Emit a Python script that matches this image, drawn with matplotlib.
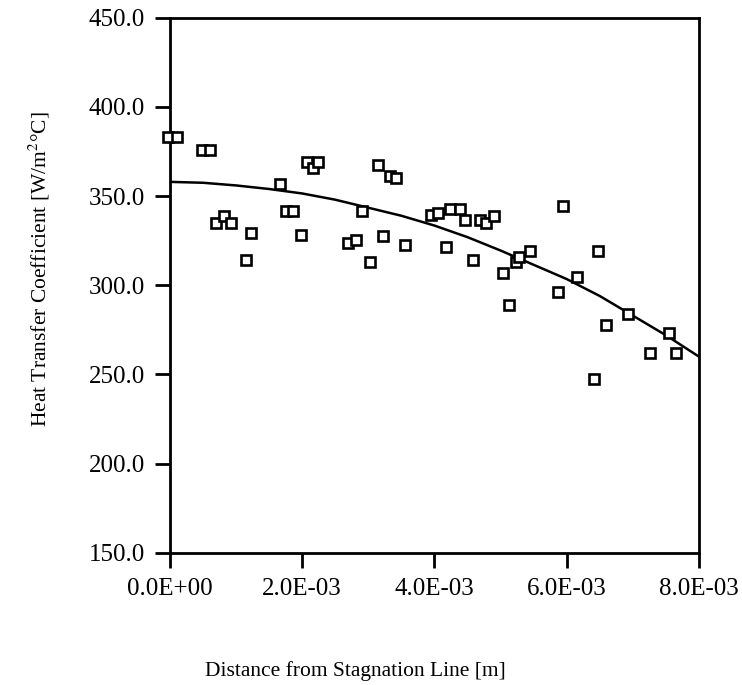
"""Heat transfer coefficient vs distance from stagnation line."""
import matplotlib

matplotlib.use("Agg")
import matplotlib.pyplot as plt
from matplotlib.ticker import FixedLocator, FixedFormatter

plt.rcParams["font.family"] = ["Liberation Serif", "DejaVu Serif"]
plt.rcParams["mathtext.fontset"] = "stix"

# measured points (distance [m], h [W/m2C])
dist = [
    -0.03e-3, 0.10e-3, 0.48e-3, 0.60e-3, 0.70e-3, 0.82e-3, 0.93e-3, 1.145e-3,
    1.22e-3, 1.66e-3, 1.76e-3, 1.86e-3, 1.98e-3, 2.07e-3, 2.17e-3, 2.24e-3,
    2.70e-3, 2.82e-3, 2.90e-3, 3.02e-3, 3.14e-3, 3.22e-3, 3.33e-3, 3.42e-3,
    3.55e-3, 3.95e-3, 4.06e-3, 4.18e-3, 4.24e-3, 4.38e-3, 4.46e-3, 4.58e-3,
    4.69e-3, 4.78e-3, 4.90e-3, 5.03e-3, 5.12e-3, 5.23e-3, 5.28e-3, 5.44e-3,
    5.87e-3, 5.95e-3, 6.15e-3, 6.41e-3, 6.48e-3, 6.60e-3, 6.93e-3, 7.26e-3,
    7.54e-3, 7.66e-3,
]
htc = [
    383.4, 383.4, 376.0, 376.0, 335.2, 338.6, 335.2, 314.3,
    329.6, 356.9, 341.8, 341.8, 328.3, 368.9, 365.7, 368.9,
    324.0, 325.5, 341.8, 313.3, 367.6, 327.4, 361.4, 360.1,
    322.7, 339.5, 340.8, 321.6, 342.7, 342.7, 336.7, 314.3,
    336.7, 334.9, 338.6, 306.8, 289.1, 313.3, 315.8, 319.0,
    296.5, 344.6, 304.4, 247.4, 319.3, 277.5, 283.8, 262.3,
    273.2, 262.3,
]

# fitted curve
fit_x = [0.0, 0.5e-3, 1.0e-3, 1.5e-3, 2.0e-3, 2.5e-3, 3.0e-3, 3.5e-3, 4.0e-3,
         4.5e-3, 5.0e-3, 5.5e-3, 6.0e-3, 6.5e-3, 7.0e-3, 7.5e-3, 8.0e-3]
fit_y = [358.0, 357.5, 356.0, 354.0, 351.5, 348.0, 343.5, 339.0, 333.5,
         327.0, 319.5, 311.5, 303.5, 294.0, 283.0, 272.0, 260.0]

x_ticks = [0.0, 2.0e-3, 4.0e-3, 6.0e-3, 8.0e-3]
x_tick_labels = ["0.0E+00", "2.0E-03", "4.0E-03", "6.0E-03", "8.0E-03"]
y_ticks = [150, 200, 250, 300, 350, 400, 450]
y_tick_labels = ["150.0", "200.0", "250.0", "300.0", "350.0", "400.0", "450.0"]

fig = plt.figure(figsize=(7.42, 6.85), dpi=100)
ax = fig.add_axes([0.229, 0.193, 0.713, 0.781])

ax.plot(fit_x, fit_y, color="black", linewidth=1.8)
ax.plot(dist, htc, linestyle="none", marker="s", markersize=7.5,
        markerfacecolor="white", markeredgecolor="black",
        markeredgewidth=1.9, clip_on=False, zorder=3)

ax.set_xlim(0, 8.0e-3)
ax.set_ylim(150, 450)
ax.xaxis.set_major_locator(FixedLocator(x_ticks))
ax.xaxis.set_major_formatter(FixedFormatter(x_tick_labels))
ax.yaxis.set_major_locator(FixedLocator(y_ticks))
ax.yaxis.set_major_formatter(FixedFormatter(y_tick_labels))

for side in ax.spines.values():
    side.set_linewidth(2.0)
ax.tick_params(direction="out", length=11, width=2.0, pad=7, labelsize=18)

# labels sit off-centre in the original, so place them by hand
ax.set_xlabel("Distance from Stagnation Line [m]", fontsize=15.5)
ax.xaxis.set_label_coords(0.35, -0.203)
ax.set_ylabel(r"Heat Transfer Coefficient [W/m$^2$°C]", fontsize=15.5)
ax.yaxis.set_label_coords(-0.222, 0.53)

fig.savefig("out.png", dpi=100)
